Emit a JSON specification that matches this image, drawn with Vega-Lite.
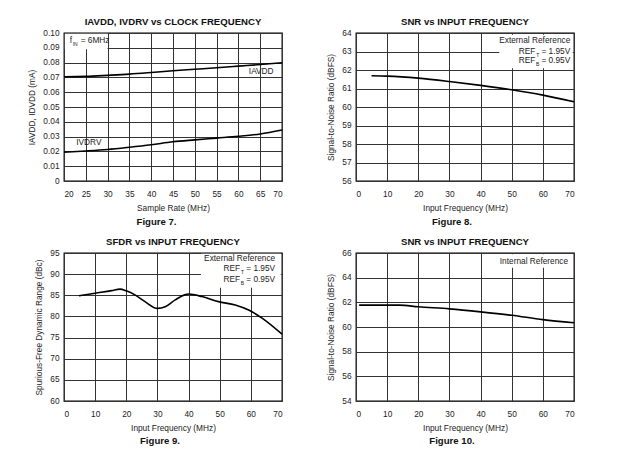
{
"$schema":"https://vega.github.io/schema/vega-lite/v6.json",
"background":"white",
"padding":{"left":27,"top":16,"right":5,"bottom":0},
"config":{"font":"Liberation Sans","view":{"stroke":"#000","strokeWidth":1.3},
"axis":{"grid":true,"gridColor":"#333","gridWidth":1,"ticks":false,"domain":false,"labelFontSize":8.3,"titleFontSize":8.3,"titleFontWeight":"normal","labelColor":"#222","titleColor":"#222","labelPadding":5,"titlePadding":6},
"axisX":{"labelPadding":8},
"title":{"fontSize":9.6,"fontWeight":"bold","color":"#111","offset":1}},
"datasets":{
"p7":[{"rate":20,"i":0.0704,"s":"IAVDD"},{"rate":25,"i":0.0707,"s":"IAVDD"},{"rate":30,"i":0.0714,"s":"IAVDD"},{"rate":35,"i":0.0722,"s":"IAVDD"},{"rate":40,"i":0.0733,"s":"IAVDD"},{"rate":45,"i":0.0745,"s":"IAVDD"},{"rate":50,"i":0.0755,"s":"IAVDD"},{"rate":55,"i":0.0765,"s":"IAVDD"},{"rate":60,"i":0.0776,"s":"IAVDD"},{"rate":65,"i":0.0787,"s":"IAVDD"},{"rate":70,"i":0.0799,"s":"IAVDD"},
{"rate":20,"i":0.0195,"s":"IVDRV"},{"rate":25,"i":0.0203,"s":"IVDRV"},{"rate":30,"i":0.0213,"s":"IVDRV"},{"rate":35,"i":0.0228,"s":"IVDRV"},{"rate":40,"i":0.0245,"s":"IVDRV"},{"rate":45,"i":0.0265,"s":"IVDRV"},{"rate":50,"i":0.0278,"s":"IVDRV"},{"rate":55,"i":0.029,"s":"IVDRV"},{"rate":60,"i":0.0302,"s":"IVDRV"},{"rate":65,"i":0.0318,"s":"IVDRV"},{"rate":70,"i":0.0345,"s":"IVDRV"}],
"p8":[{"f":5,"v":61.69},{"f":10,"v":61.67},{"f":20,"v":61.56},{"f":30,"v":61.38},{"f":40,"v":61.17},{"f":50,"v":60.93},{"f":60,"v":60.64},{"f":70,"v":60.28}],
"p9":[{"f":4.8,"v":84.9},{"f":10,"v":85.5},{"f":15.3,"v":86.1},{"f":18,"v":86.45},{"f":20,"v":86.05},{"f":22.8,"v":85.1},{"f":26,"v":83.5},{"f":30,"v":81.9},{"f":32.5,"v":82.3},{"f":35.7,"v":83.9},{"f":38.7,"v":85.1},{"f":40,"v":85.3},{"f":44.3,"v":84.7},{"f":49.6,"v":83.5},{"f":55,"v":82.7},{"f":59.3,"v":81.5},{"f":63.6,"v":79.6},{"f":70,"v":75.8}],
"p10":[{"f":1,"v":61.77},{"f":10,"v":61.77},{"f":14,"v":61.77},{"f":20,"v":61.64},{"f":30,"v":61.47},{"f":40,"v":61.23},{"f":50,"v":60.95},{"f":60,"v":60.6},{"f":70,"v":60.35}],
"one":[{}]
},
"vconcat":[
{"hconcat":[
{"title":{"text":"Figure 7.","orient":"bottom","anchor":"middle","fontSize":9.6,"offset":5},
 "vconcat":[{"width":218,"height":148,"title":"IAVDD, IVDRV vs CLOCK FREQUENCY",
 "layer":[
  {"data":{"name":"one"},"mark":{"type":"rect","color":"white"},"encoding":{
   "x":{"datum":20.2,"scale":{"domain":[20,70]},"axis":{"values":[20,25,30,35,40,45,50,55,60,65,70],"title":"Sample Rate (MHz)"}},"x2":{"datum":30},
   "y":{"datum":0.089,"scale":{"domain":[0,0.1]},"axis":{"values":[0,0.01,0.02,0.03,0.04,0.05,0.06,0.07,0.08,0.09,0.1],"labelExpr":"datum.value==0?'0':format(datum.value,'.2f')","title":"IAVDD, IDVDD (mA)"}},"y2":{"datum":0.0995}}},
  {"data":{"name":"p7"},"mark":{"type":"line","color":"#000","strokeWidth":1.6,"interpolate":"monotone"},
   "encoding":{"x":{"field":"rate","type":"quantitative","scale":{"domain":[20,70]},"axis":{"values":[20,25,30,35,40,45,50,55,60,65,70],"title":"Sample Rate (MHz)"}},
   "y":{"field":"i","type":"quantitative","scale":{"domain":[0,0.1]},"axis":{"values":[0,0.01,0.02,0.03,0.04,0.05,0.06,0.07,0.08,0.09,0.1],"labelExpr":"datum.value==0?'0':format(datum.value,'.2f')","title":"IAVDD, IDVDD (mA)"}},
   "detail":{"field":"s"}}},
  {"data":{"name":"one"},"mark":{"type":"text","text":"IAVDD","align":"left","fontSize":8.3,"color":"#222"},"encoding":{
   "x":{"datum":62.4,"scale":{"domain":[20,70]},"axis":{"values":[20,25,30,35,40,45,50,55,60,65,70],"title":"Sample Rate (MHz)"}},
   "y":{"datum":0.0738,"scale":{"domain":[0,0.1]},"axis":{"values":[0,0.01,0.02,0.03,0.04,0.05,0.06,0.07,0.08,0.09,0.1],"labelExpr":"datum.value==0?'0':format(datum.value,'.2f')","title":"IAVDD, IDVDD (mA)"}}}},
  {"data":{"name":"one"},"mark":{"type":"text","text":"IVDRV","align":"left","fontSize":8.3,"color":"#222"},"encoding":{
   "x":{"datum":22.8,"scale":{"domain":[20,70]},"axis":{"values":[20,25,30,35,40,45,50,55,60,65,70],"title":"Sample Rate (MHz)"}},
   "y":{"datum":0.026,"scale":{"domain":[0,0.1]},"axis":{"values":[0,0.01,0.02,0.03,0.04,0.05,0.06,0.07,0.08,0.09,0.1],"labelExpr":"datum.value==0?'0':format(datum.value,'.2f')","title":"IAVDD, IDVDD (mA)"}}}},
  {"data":{"name":"one"},"mark":{"type":"text","text":"f","align":"left","fontSize":8.3,"color":"#222"},"encoding":{
   "x":{"datum":21.3,"scale":{"domain":[20,70]},"axis":{"values":[20,25,30,35,40,45,50,55,60,65,70],"title":"Sample Rate (MHz)"}},
   "y":{"datum":0.0948,"scale":{"domain":[0,0.1]},"axis":{"values":[0,0.01,0.02,0.03,0.04,0.05,0.06,0.07,0.08,0.09,0.1],"labelExpr":"datum.value==0?'0':format(datum.value,'.2f')","title":"IAVDD, IDVDD (mA)"}}}},
  {"data":{"name":"one"},"mark":{"type":"text","text":"IN","align":"left","fontSize":5,"dx":3,"dy":3,"color":"#222"},"encoding":{
   "x":{"datum":21.3,"scale":{"domain":[20,70]},"axis":{"values":[20,25,30,35,40,45,50,55,60,65,70],"title":"Sample Rate (MHz)"}},
   "y":{"datum":0.0948,"scale":{"domain":[0,0.1]},"axis":{"values":[0,0.01,0.02,0.03,0.04,0.05,0.06,0.07,0.08,0.09,0.1],"labelExpr":"datum.value==0?'0':format(datum.value,'.2f')","title":"IAVDD, IDVDD (mA)"}}}},
  {"data":{"name":"one"},"mark":{"type":"text","text":"= 6MHz","align":"left","fontSize":8.3,"dx":11,"color":"#222"},"encoding":{
   "x":{"datum":21.3,"scale":{"domain":[20,70]},"axis":{"values":[20,25,30,35,40,45,50,55,60,65,70],"title":"Sample Rate (MHz)"}},
   "y":{"datum":0.0948,"scale":{"domain":[0,0.1]},"axis":{"values":[0,0.01,0.02,0.03,0.04,0.05,0.06,0.07,0.08,0.09,0.1],"labelExpr":"datum.value==0?'0':format(datum.value,'.2f')","title":"IAVDD, IDVDD (mA)"}}}}
 ]}]},
{"title":{"text":"Figure 8.","orient":"bottom","anchor":"middle","fontSize":9.6,"offset":5},
 "vconcat":[{"width":218,"height":148,"title":"SNR vs INPUT FREQUENCY",
 "layer":[
  {"data":{"name":"one"},"mark":{"type":"rect","color":"white"},"encoding":{
   "x":{"datum":46,"scale":{"domain":[0,70]},"axis":{"values":[0,10,20,30,40,50,60,70],"title":"Input Frequency (MHz)"}},"x2":{"datum":69.6},
   "y":{"datum":62.1,"scale":{"domain":[56,64]},"axis":{"values":[56,57,58,59,60,61,62,63,64],"title":"Signal-to-Noise Ratio (dBFS)"}},"y2":{"datum":63.9}}},
  {"data":{"name":"p8"},"mark":{"type":"line","color":"#000","strokeWidth":1.6,"interpolate":"monotone"},
   "encoding":{"x":{"field":"f","type":"quantitative","scale":{"domain":[0,70]},"axis":{"values":[0,10,20,30,40,50,60,70],"title":"Input Frequency (MHz)"}},
   "y":{"field":"v","type":"quantitative","scale":{"domain":[56,64]},"axis":{"values":[56,57,58,59,60,61,62,63,64],"title":"Signal-to-Noise Ratio (dBFS)"}}}},
  {"data":{"name":"one"},"mark":{"type":"text","text":"External Reference","align":"right","fontSize":8.3,"color":"#222"},"encoding":{
   "x":{"datum":68.8,"scale":{"domain":[0,70]},"axis":{"values":[0,10,20,30,40,50,60,70],"title":"Input Frequency (MHz)"}},
   "y":{"datum":63.55,"scale":{"domain":[56,64]},"axis":{"values":[56,57,58,59,60,61,62,63,64],"title":"Signal-to-Noise Ratio (dBFS)"}}}},
  {"data":{"name":"one"},"mark":{"type":"text","text":"= 1.95V","align":"right","fontSize":8.3,"color":"#222"},"encoding":{
   "x":{"datum":68.8,"scale":{"domain":[0,70]},"axis":{"values":[0,10,20,30,40,50,60,70],"title":"Input Frequency (MHz)"}},
   "y":{"datum":63.0,"scale":{"domain":[56,64]},"axis":{"values":[56,57,58,59,60,61,62,63,64],"title":"Signal-to-Noise Ratio (dBFS)"}}}},
  {"data":{"name":"one"},"mark":{"type":"text","text":"T","align":"right","fontSize":5,"dx":-31,"dy":3,"color":"#222"},"encoding":{
   "x":{"datum":68.8,"scale":{"domain":[0,70]},"axis":{"values":[0,10,20,30,40,50,60,70],"title":"Input Frequency (MHz)"}},
   "y":{"datum":63.0,"scale":{"domain":[56,64]},"axis":{"values":[56,57,58,59,60,61,62,63,64],"title":"Signal-to-Noise Ratio (dBFS)"}}}},
  {"data":{"name":"one"},"mark":{"type":"text","text":"REF","align":"right","fontSize":8.3,"dx":-35,"color":"#222"},"encoding":{
   "x":{"datum":68.8,"scale":{"domain":[0,70]},"axis":{"values":[0,10,20,30,40,50,60,70],"title":"Input Frequency (MHz)"}},
   "y":{"datum":63.0,"scale":{"domain":[56,64]},"axis":{"values":[56,57,58,59,60,61,62,63,64],"title":"Signal-to-Noise Ratio (dBFS)"}}}},
  {"data":{"name":"one"},"mark":{"type":"text","text":"= 0.95V","align":"right","fontSize":8.3,"color":"#222"},"encoding":{
   "x":{"datum":68.8,"scale":{"domain":[0,70]},"axis":{"values":[0,10,20,30,40,50,60,70],"title":"Input Frequency (MHz)"}},
   "y":{"datum":62.47,"scale":{"domain":[56,64]},"axis":{"values":[56,57,58,59,60,61,62,63,64],"title":"Signal-to-Noise Ratio (dBFS)"}}}},
  {"data":{"name":"one"},"mark":{"type":"text","text":"B","align":"right","fontSize":5,"dx":-31,"dy":3,"color":"#222"},"encoding":{
   "x":{"datum":68.8,"scale":{"domain":[0,70]},"axis":{"values":[0,10,20,30,40,50,60,70],"title":"Input Frequency (MHz)"}},
   "y":{"datum":62.47,"scale":{"domain":[56,64]},"axis":{"values":[56,57,58,59,60,61,62,63,64],"title":"Signal-to-Noise Ratio (dBFS)"}}}},
  {"data":{"name":"one"},"mark":{"type":"text","text":"REF","align":"right","fontSize":8.3,"dx":-35,"color":"#222"},"encoding":{
   "x":{"datum":68.8,"scale":{"domain":[0,70]},"axis":{"values":[0,10,20,30,40,50,60,70],"title":"Input Frequency (MHz)"}},
   "y":{"datum":62.47,"scale":{"domain":[56,64]},"axis":{"values":[56,57,58,59,60,61,62,63,64],"title":"Signal-to-Noise Ratio (dBFS)"}}}}
 ]}]}
],"spacing":40},
{"hconcat":[
{"title":{"text":"Figure 9.","orient":"bottom","anchor":"middle","fontSize":9.6,"offset":4},
 "vconcat":[{"width":218,"height":148,"title":"SFDR vs INPUT FREQUENCY",
 "layer":[
  {"data":{"name":"one"},"mark":{"type":"rect","color":"white"},"encoding":{
   "x":{"datum":44,"scale":{"domain":[0,70]},"axis":{"values":[0,10,20,30,40,50,60,70],"title":"Input Frequency (MHz)"}},"x2":{"datum":69.6},
   "y":{"datum":86.8,"scale":{"domain":[60,95]},"axis":{"values":[60,65,70,75,80,85,90,95],"title":"Spurious-Free Dynamic Range (dBc)"}},"y2":{"datum":94.8}}},
  {"data":{"name":"p9"},"mark":{"type":"line","color":"#000","strokeWidth":1.6,"interpolate":"monotone"},
   "encoding":{"x":{"field":"f","type":"quantitative","scale":{"domain":[0,70]},"axis":{"values":[0,10,20,30,40,50,60,70],"title":"Input Frequency (MHz)"}},
   "y":{"field":"v","type":"quantitative","scale":{"domain":[60,95]},"axis":{"values":[60,65,70,75,80,85,90,95],"title":"Spurious-Free Dynamic Range (dBc)"}}}},
  {"data":{"name":"one"},"mark":{"type":"text","text":"External Reference","align":"right","fontSize":8.3,"color":"#222"},"encoding":{
   "x":{"datum":67.8,"scale":{"domain":[0,70]},"axis":{"values":[0,10,20,30,40,50,60,70],"title":"Input Frequency (MHz)"}},
   "y":{"datum":93.6,"scale":{"domain":[60,95]},"axis":{"values":[60,65,70,75,80,85,90,95],"title":"Spurious-Free Dynamic Range (dBc)"}}}},
  {"data":{"name":"one"},"mark":{"type":"text","text":"= 1.95V","align":"right","fontSize":8.3,"color":"#222"},"encoding":{
   "x":{"datum":67.8,"scale":{"domain":[0,70]},"axis":{"values":[0,10,20,30,40,50,60,70],"title":"Input Frequency (MHz)"}},
   "y":{"datum":91.2,"scale":{"domain":[60,95]},"axis":{"values":[60,65,70,75,80,85,90,95],"title":"Spurious-Free Dynamic Range (dBc)"}}}},
  {"data":{"name":"one"},"mark":{"type":"text","text":"T","align":"right","fontSize":5,"dx":-31,"dy":3,"color":"#222"},"encoding":{
   "x":{"datum":67.8,"scale":{"domain":[0,70]},"axis":{"values":[0,10,20,30,40,50,60,70],"title":"Input Frequency (MHz)"}},
   "y":{"datum":91.2,"scale":{"domain":[60,95]},"axis":{"values":[60,65,70,75,80,85,90,95],"title":"Spurious-Free Dynamic Range (dBc)"}}}},
  {"data":{"name":"one"},"mark":{"type":"text","text":"REF","align":"right","fontSize":8.3,"dx":-35,"color":"#222"},"encoding":{
   "x":{"datum":67.8,"scale":{"domain":[0,70]},"axis":{"values":[0,10,20,30,40,50,60,70],"title":"Input Frequency (MHz)"}},
   "y":{"datum":91.2,"scale":{"domain":[60,95]},"axis":{"values":[60,65,70,75,80,85,90,95],"title":"Spurious-Free Dynamic Range (dBc)"}}}},
  {"data":{"name":"one"},"mark":{"type":"text","text":"= 0.95V","align":"right","fontSize":8.3,"color":"#222"},"encoding":{
   "x":{"datum":67.8,"scale":{"domain":[0,70]},"axis":{"values":[0,10,20,30,40,50,60,70],"title":"Input Frequency (MHz)"}},
   "y":{"datum":88.6,"scale":{"domain":[60,95]},"axis":{"values":[60,65,70,75,80,85,90,95],"title":"Spurious-Free Dynamic Range (dBc)"}}}},
  {"data":{"name":"one"},"mark":{"type":"text","text":"B","align":"right","fontSize":5,"dx":-31,"dy":3,"color":"#222"},"encoding":{
   "x":{"datum":67.8,"scale":{"domain":[0,70]},"axis":{"values":[0,10,20,30,40,50,60,70],"title":"Input Frequency (MHz)"}},
   "y":{"datum":88.6,"scale":{"domain":[60,95]},"axis":{"values":[60,65,70,75,80,85,90,95],"title":"Spurious-Free Dynamic Range (dBc)"}}}},
  {"data":{"name":"one"},"mark":{"type":"text","text":"REF","align":"right","fontSize":8.3,"dx":-35,"color":"#222"},"encoding":{
   "x":{"datum":67.8,"scale":{"domain":[0,70]},"axis":{"values":[0,10,20,30,40,50,60,70],"title":"Input Frequency (MHz)"}},
   "y":{"datum":88.6,"scale":{"domain":[60,95]},"axis":{"values":[60,65,70,75,80,85,90,95],"title":"Spurious-Free Dynamic Range (dBc)"}}}}
 ]}]},
{"title":{"text":"Figure 10.","orient":"bottom","anchor":"middle","fontSize":9.6,"offset":4},
 "vconcat":[{"width":218,"height":148,"title":"SNR vs INPUT FREQUENCY",
 "layer":[
  {"data":{"name":"one"},"mark":{"type":"rect","color":"white"},"encoding":{
   "x":{"datum":46,"scale":{"domain":[0,70]},"axis":{"values":[0,10,20,30,40,50,60,70],"title":"Input Frequency (MHz)"}},"x2":{"datum":69.6},
   "y":{"datum":64.8,"scale":{"domain":[54,66]},"axis":{"values":[54,56,58,60,62,64,66],"title":"Signal-to-Noise Ratio (dBFS)"}},"y2":{"datum":65.9}}},
  {"data":{"name":"p10"},"mark":{"type":"line","color":"#000","strokeWidth":1.6,"interpolate":"monotone"},
   "encoding":{"x":{"field":"f","type":"quantitative","scale":{"domain":[0,70]},"axis":{"values":[0,10,20,30,40,50,60,70],"title":"Input Frequency (MHz)"}},
   "y":{"field":"v","type":"quantitative","scale":{"domain":[54,66]},"axis":{"values":[54,56,58,60,62,64,66],"title":"Signal-to-Noise Ratio (dBFS)"}}}},
  {"data":{"name":"one"},"mark":{"type":"text","text":"Internal Reference","align":"right","fontSize":8.3,"color":"#222"},"encoding":{
   "x":{"datum":68.1,"scale":{"domain":[0,70]},"axis":{"values":[0,10,20,30,40,50,60,70],"title":"Input Frequency (MHz)"}},
   "y":{"datum":65.3,"scale":{"domain":[54,66]},"axis":{"values":[54,56,58,60,62,64,66],"title":"Signal-to-Noise Ratio (dBFS)"}}}}
 ]}]}
],"spacing":40}
],
"spacing":9
}
